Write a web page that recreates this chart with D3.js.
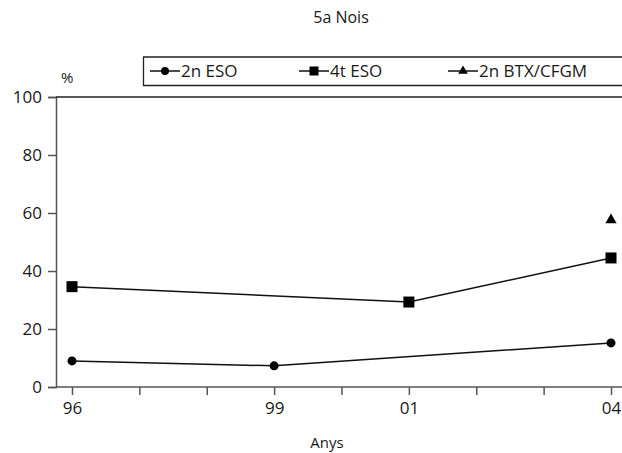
<!DOCTYPE html>
<html><head><meta charset="utf-8">
<script src="https://cdn.jsdelivr.net/npm/d3@7/dist/d3.min.js"></script>
<style>body{margin:0;background:#fff;} text{font-family:"Open Sans","Noto Sans",sans-serif;fill:#1a1a1a;}</style>
</head><body>
<svg id="c" width="622" height="453"></svg>
<script>
const years = [1996, 1997, 1998, 1999, 2000, 2001, 2002, 2003, 2004];
const yearLabels = {1996: "96", 1999: "99", 2001: "01", 2004: "04"};
const eso2Years = [1996, 1999, 2004];
const eso2Values = [9.0, 7.3, 15.2];
const eso4Years = [1996, 2001, 2004];
const eso4Values = [34.6, 29.3, 44.5];
const btxYears = [2004];
const btxValues = [57.6];
const yTicks = [0, 20, 40, 60, 80, 100];
const seriesNames = ["2n ESO", "4t ESO", "2n BTX/CFGM"];

const svg = d3.select("#c");
const x = d3.scaleLinear().domain([1996, 2004]).range([72, 611]);
const y = d3.scaleLinear().domain([0, 100]).range([387, 97]);
const axisColor = "#555";
const ff = "'Open Sans','Noto Sans',sans-serif";

svg.append("text").attr("x", 341).attr("y", 23).attr("text-anchor", "middle").attr("font-size", 16).text("5a Nois");

// y axis
const yAxis = svg.append("g").attr("transform", "translate(56,0)")
  .call(d3.axisLeft(y).tickValues(yTicks).tickSize(8).tickPadding(6).tickFormat(d3.format("d")));
yAxis.select(".domain").attr("stroke", axisColor).attr("stroke-width", 1.5);
yAxis.selectAll(".tick line").attr("stroke", axisColor).attr("stroke-width", 1.5);
yAxis.selectAll("text").attr("font-size", 17).style("font-family", ff).attr("fill", "#1a1a1a");

// x axis
svg.append("line").attr("x1", 56).attr("x2", 622).attr("y1", 387).attr("y2", 387).attr("stroke", axisColor).attr("stroke-width", 1.5);
const xAxis = svg.append("g").attr("transform", "translate(0,387)")
  .call(d3.axisBottom(x).tickValues(years).tickSize(8).tickPadding(7).tickFormat(d => yearLabels[d] || ""));
xAxis.select(".domain").remove();
xAxis.selectAll(".tick line").attr("stroke", axisColor).attr("stroke-width", 1.5);
xAxis.selectAll("text").attr("font-size", 17).style("font-family", ff).attr("fill", "#1a1a1a");

// top frame line
svg.append("line").attr("x1", 56).attr("x2", 622).attr("y1", y(100)).attr("y2", y(100)).attr("stroke", "#222").attr("stroke-width", 1.5);

svg.append("text").attr("x", 61).attr("y", 83).attr("font-size", 15).text("%");
svg.append("text").attr("x", 327).attr("y", 448).attr("text-anchor", "middle").attr("font-size", 15).text("Anys");

const line = d3.line().x(d => x(d[0])).y(d => y(d[1]));
function drawLine(ys, vs) {
  const pts = ys.map((yr, i) => [yr, vs[i]]);
  svg.append("path").datum(pts).attr("d", line).attr("fill", "none").attr("stroke", "#111").attr("stroke-width", 1.5);
  return pts;
}
const p2 = drawLine(eso2Years, eso2Values);
svg.selectAll(".c2").data(p2).enter().append("circle").attr("cx", d => x(d[0])).attr("cy", d => y(d[1])).attr("r", 4.5).attr("fill", "#000");
const p4 = drawLine(eso4Years, eso4Values);
svg.selectAll(".s4").data(p4).enter().append("rect").attr("x", d => x(d[0]) - 5.5).attr("y", d => y(d[1]) - 5.5).attr("width", 11).attr("height", 11).attr("fill", "#000");
const pb = btxYears.map((yr, i) => [yr, btxValues[i]]);
const tri = d3.symbol().type(d3.symbolTriangle).size(55);
svg.selectAll(".tb").data(pb).enter().append("path").attr("d", tri).attr("transform", d => `translate(${x(d[0])},${y(d[1])})`).attr("fill", "#000");

// legend
svg.append("path").attr("d", "M622,57 H143.5 V85.5 H622").attr("fill", "none").attr("stroke", "#222").attr("stroke-width", 1.3);
const legX = [150, 299, 448];
seriesNames.forEach((name, i) => {
  const lx = legX[i], ly = 71;
  svg.append("line").attr("x1", lx).attr("x2", lx + 30).attr("y1", ly).attr("y2", ly).attr("stroke", "#111").attr("stroke-width", 1.5);
  const cx = lx + 15;
  if (i === 0) svg.append("circle").attr("cx", cx).attr("cy", ly).attr("r", 4).attr("fill", "#000");
  else if (i === 1) svg.append("rect").attr("x", cx - 4.5).attr("y", ly - 4.5).attr("width", 9).attr("height", 9).attr("fill", "#000");
  else svg.append("path").attr("d", d3.symbol().type(d3.symbolTriangle).size(40)).attr("transform", `translate(${cx},${ly})`).attr("fill", "#000");
  svg.append("text").attr("x", lx + 31).attr("y", ly + 6).attr("font-size", 17).text(name);
});
</script>
</body></html>
